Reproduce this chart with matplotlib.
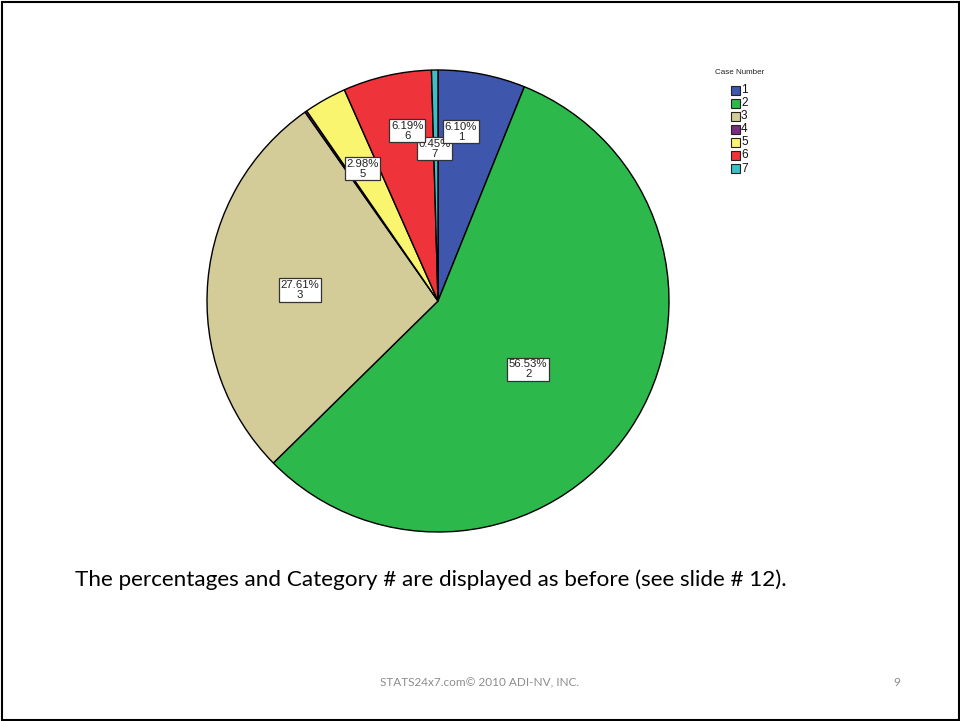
import numpy as np
import matplotlib
matplotlib.use("Agg")
import matplotlib.pyplot as plt
from matplotlib.patches import Rectangle

categories = ["1", "2", "3", "4", "5", "6", "7"]
percents = [6.10, 56.53, 27.61, 0.14, 2.98, 6.19, 0.45]
colors = ["#3E56AB", "#2DB84B", "#D3CC98", "#7A2B82", "#FAF56E", "#EE333A", "#3EBFC6"]
show_label = [True, True, True, False, True, True, True]
label_r = [0.74, 0.49, 0.60, 0.6, 0.66, 0.75, 0.66]
label_dang = [-3.3, 3.4, -0.6, 0.0, -0.4, 2.5, -0.4]
label_z = [6, 6, 6, 6, 6, 6, 5]

body_text = "The percentages and Category # are displayed as before (see slide # 12)."
footer_text = "STATS24x7.com\u00a9 2010 ADI-NV, INC."
page_num = "9"

W, H = 960, 721
fig = plt.figure(figsize=(W / 100, H / 100), dpi=100)
fig.patch.set_facecolor("white")

# pie axes: center (438,301) px, radius 231 px
cx, cy, r = 438, 301, 231
ax = fig.add_axes([(cx - r) / W, (H - cy - r) / H, 2 * r / W, 2 * r / H])

wedges, _ = ax.pie(percents, colors=colors, startangle=90, counterclock=False,
                   radius=1.0, wedgeprops=dict(edgecolor="black", linewidth=1.0))
ax.set_xlim(-1, 1)
ax.set_ylim(-1, 1)
ax.set_aspect("equal")
ax.axis("off")

total = sum(percents)
cum = 0.0
for i, p in enumerate(percents):
    mid = (cum + p / 2) / total * 360.0
    cum += p
    if not show_label[i]:
        continue
    ang = np.deg2rad(mid + label_dang[i])
    x = label_r[i] * np.sin(ang)
    y = label_r[i] * np.cos(ang)
    ax.text(x, y, f"{p:.2f}%\n{categories[i]}", ha="center", va="center",
            fontsize=8.2, family="Liberation Sans", color="#222222", linespacing=1.0,
            zorder=label_z[i],
            bbox=dict(boxstyle="square,pad=0.14", facecolor="white", edgecolor="#333333", linewidth=0.9))

# legend
fig.text(739.5 / W, 1 - 73 / H, "Case Number", fontsize=5.8, family="Liberation Sans",
         ha="center", va="center", color="#222222")
for i, c in enumerate(categories):
    yc = 90 + i * 13.1
    fig.patches.append(Rectangle((730.5 / W, 1 - (yc + 4.5) / H), 9.5 / W, 9 / H,
                                 transform=fig.transFigure, facecolor=colors[i],
                                 edgecolor="#222222", linewidth=0.8))
    fig.text(741 / W, 1 - yc / H, c, fontsize=8.5, family="Liberation Sans",
             ha="left", va="center", color="#111111")

# slide text
fig.text(75 / W, 1 - 580 / H, body_text, fontsize=16.2, family="Lato",
         ha="left", va="center", color="black")
fig.text(480 / W, 1 - 683 / H, footer_text, fontsize=8.5, family="Lato",
         ha="center", va="center", color="#8C8C8C")
fig.text(897 / W, 1 - 683 / H, page_num, fontsize=8.5, family="Lato",
         ha="center", va="center", color="#8C8C8C")

# slide border
fig.patches.append(Rectangle((1.5 / W, 1.5 / H), (W - 3) / W, (H - 3) / H,
                             transform=fig.transFigure, facecolor="none",
                             edgecolor="black", linewidth=1.5))

fig.savefig("out.png", dpi=100)
